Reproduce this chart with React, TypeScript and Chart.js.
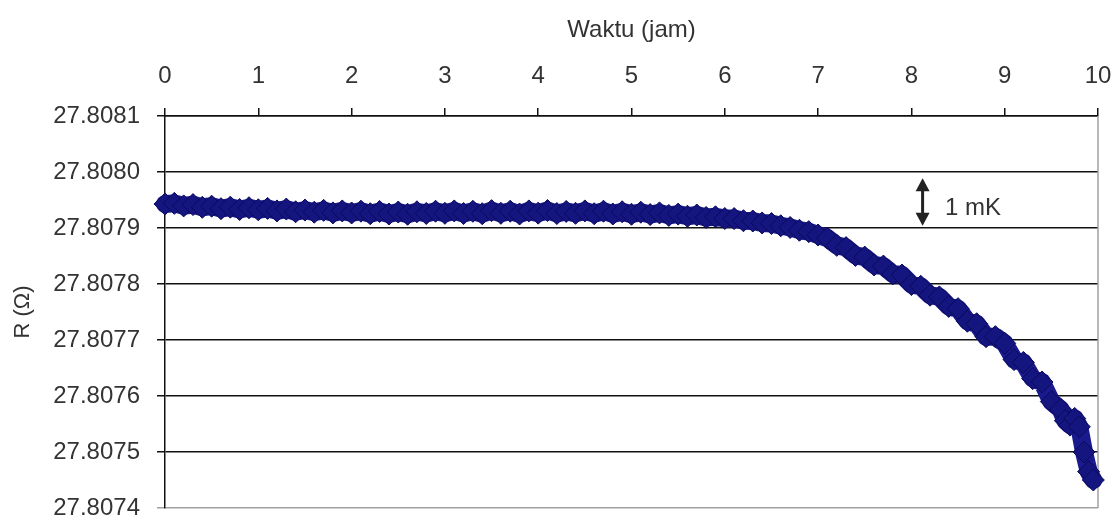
import React, { useEffect, useRef } from "react";
import { Chart, registerables } from "chart.js";

Chart.register(...registerables);

// Elapsed time (hours) and measured resistance (ohm)
const HOURS = [
  0.0, 0.1, 0.2, 0.3, 0.4, 0.5, 0.6, 0.7, 0.8, 0.9,
  1.0, 1.1, 1.2, 1.3, 1.4, 1.5, 1.6, 1.7, 1.8, 1.9,
  2.0, 2.1, 2.2, 2.3, 2.4, 2.5, 2.6, 2.7, 2.8, 2.9,
  3.0, 3.1, 3.2, 3.3, 3.4, 3.5, 3.6, 3.7, 3.8, 3.9,
  4.0, 4.1, 4.2, 4.3, 4.4, 4.5, 4.6, 4.7, 4.8, 4.9,
  5.0, 5.1, 5.2, 5.3, 5.4, 5.5, 5.6, 5.7, 5.8, 5.9,
  6.0, 6.1, 6.2, 6.3, 6.4, 6.5, 6.6, 6.7, 6.8, 6.9,
  7.0, 7.1, 7.2, 7.3, 7.4, 7.5, 7.6, 7.7, 7.8, 7.9,
  8.0, 8.1, 8.2, 8.3, 8.4, 8.5, 8.6, 8.7, 8.8, 8.9,
  9.0, 9.1, 9.2, 9.3, 9.4, 9.5, 9.6, 9.65, 9.7, 9.75,
  9.8, 9.85, 9.9, 9.95,
];

const RESISTANCE = [
  27.8079429, 27.807944, 27.8079395, 27.8079418, 27.807937, 27.807939, 27.8079345, 27.8079372, 27.807933, 27.8079362,
  27.8079325, 27.807935, 27.8079305, 27.8079338, 27.807929, 27.807932, 27.8079282, 27.8079315, 27.807927, 27.8079305,
  27.8079268, 27.80793, 27.8079255, 27.8079295, 27.807925, 27.8079285, 27.8079245, 27.807929, 27.807926, 27.80793,
  27.8079262, 27.8079305, 27.8079258, 27.8079298, 27.8079255, 27.807931, 27.8079262, 27.80793, 27.807925, 27.8079305,
  27.8079265, 27.8079312, 27.8079258, 27.8079296, 27.8079262, 27.8079305, 27.8079255, 27.80793, 27.807925, 27.807929,
  27.8079245, 27.8079282, 27.807924, 27.807927, 27.8079225, 27.8079248, 27.807921, 27.8079232, 27.8079188, 27.80792,
  27.807917, 27.8079168, 27.807913, 27.8079125, 27.807909, 27.807908, 27.807904, 27.807901, 27.807896, 27.8078935,
  27.8078875, 27.807882, 27.807869, 27.807865, 27.807851, 27.807848, 27.807834, 27.807832, 27.807818, 27.807816,
  27.807799, 27.807796, 27.80778, 27.807777, 27.80776, 27.807756, 27.8077335, 27.807729, 27.807706, 27.807706,
  27.807694, 27.807665, 27.80766, 27.807631, 27.807625, 27.80759, 27.807576, 27.807556, 27.807548, 27.80756,
  27.807545, 27.8075, 27.807465, 27.80745,
];

const X_TICKS = [0, 1, 2, 3, 4, 5, 6, 7, 8, 9, 10];
const Y_TICKS = [27.8074, 27.8075, 27.8076, 27.8077, 27.8078, 27.8079, 27.808, 27.8081];

// "1 mK" scale marker: double arrow spanning one millikelvin-equivalent step
const MARK_HOUR = 8.12;
const MARK_TOP = 27.807989;
const MARK_BOTTOM = 27.807904;
const MARK_LABEL = "1 mK";
const MARK_LABEL_HOUR = 8.36;
const MARK_LABEL_VALUE = 27.807935;

const FONT = "'Liberation Sans', Arial, sans-serif";
const TEXT = "#333333";

const frameAndMarker = {
  id: "frameAndMarker",
  beforeDatasetsDraw(chart: any) {
    const { ctx, chartArea } = chart;
    ctx.save();
    ctx.strokeStyle = "#a0a0a0";
    ctx.lineWidth = 1.5;
    ctx.beginPath();
    ctx.moveTo(chartArea.right, chartArea.top);
    ctx.lineTo(chartArea.right, chartArea.bottom);
    ctx.stroke();
    ctx.restore();
  },
  afterDatasetsDraw(chart: any) {
    const { ctx } = chart;
    const xs = chart.scales.x;
    const ys = chart.scales.y;
    const x = xs.getPixelForValue(MARK_HOUR);
    const yTop = ys.getPixelForValue(MARK_TOP);
    const yBot = ys.getPixelForValue(MARK_BOTTOM);
    const head = 13;
    const half = 7;
    ctx.save();
    ctx.fillStyle = "#222222";
    ctx.strokeStyle = "#222222";
    ctx.lineWidth = 3;
    ctx.beginPath();
    ctx.moveTo(x, yTop + head - 1);
    ctx.lineTo(x, yBot - head + 1);
    ctx.stroke();
    ctx.beginPath();
    ctx.moveTo(x, yTop);
    ctx.lineTo(x - half, yTop + head);
    ctx.lineTo(x + half, yTop + head);
    ctx.closePath();
    ctx.fill();
    ctx.beginPath();
    ctx.moveTo(x, yBot);
    ctx.lineTo(x - half, yBot - head);
    ctx.lineTo(x + half, yBot - head);
    ctx.closePath();
    ctx.fill();
    ctx.font = `24px ${FONT}`;
    ctx.fillStyle = TEXT;
    ctx.textAlign = "left";
    ctx.textBaseline = "middle";
    ctx.fillText(MARK_LABEL, xs.getPixelForValue(MARK_LABEL_HOUR), ys.getPixelForValue(MARK_LABEL_VALUE));
    ctx.restore();
  },
};

export default function App() {
  const canvasRef = useRef<HTMLCanvasElement | null>(null);

  useEffect(() => {
    if (!canvasRef.current) return;
    const points = HOURS.map((h, i) => ({ x: h, y: RESISTANCE[i] }));
    const chart = new Chart(canvasRef.current, {
      type: "line",
      data: {
        datasets: [
          {
            data: points,
            borderColor: "#1a1a8e",
            borderWidth: 18,
            borderJoinStyle: "round",
            borderCapStyle: "round",
            pointStyle: "rectRot",
            pointRadius: 11,
            pointBackgroundColor: "#15157f",
            pointBorderColor: "#0a0a5e",
            pointBorderWidth: 1,
            tension: 0,
            clip: false,
          } as any,
        ],
      },
      options: {
        responsive: false,
        animation: false,
        layout: { padding: { left: 0, right: 15, top: 0, bottom: 13 } },
        plugins: { legend: { display: false }, tooltip: { enabled: false } },
        scales: {
          x: {
            type: "linear",
            position: "top",
            min: 0,
            max: 10,
            afterBuildTicks: (scale: any) => {
              scale.ticks = X_TICKS.map((v) => ({ value: v }));
            },
            afterFit: (scale: any) => {
              scale.height = 116;
              scale.paddingLeft = 0;
              scale.paddingRight = 0;
            },
            ticks: {
              font: { family: FONT, size: 24 },
              color: TEXT,
              padding: 17,
              maxRotation: 0,
              autoSkip: false,
            },
            grid: {
              drawOnChartArea: false,
              drawTicks: true,
              tickLength: 8,
              color: "#111111",
              lineWidth: 1.5,
            },
            border: { color: "#111111", width: 1.5 },
            title: {
              display: true,
              text: "Waktu (jam)",
              font: { family: FONT, size: 24 },
              color: TEXT,
              padding: { top: 16, bottom: 0 },
            },
          },
          y: {
            type: "linear",
            min: 27.8074,
            max: 27.8081,
            afterBuildTicks: (scale: any) => {
              scale.ticks = Y_TICKS.map((v) => ({ value: v }));
            },
            afterFit: (scale: any) => {
              scale.width = 165;
              scale.paddingTop = 0;
              scale.paddingBottom = 0;
            },
            ticks: {
              font: { family: FONT, size: 24 },
              color: TEXT,
              padding: 17,
              autoSkip: false,
              callback: (v: any) => Number(v).toFixed(4),
            },
            grid: {
              drawTicks: true,
              tickLength: 8,
              lineWidth: 1.5,
              color: (c: any) => (c.tick && Math.abs(c.tick.value - 27.8074) < 1e-7 ? "#a0a0a0" : "#111111"),
            },
            border: { color: "#111111", width: 1.5 },
            title: {
              display: true,
              text: "R (Ω)",
              font: { family: FONT, size: 22 },
              color: TEXT,
              padding: { top: 10, bottom: 0 },
            },
          },
        },
      } as any,
      plugins: [frameAndMarker],
    });
    return () => chart.destroy();
  }, []);

  return (
    <div style={{ position: "absolute", left: 0, top: 0, width: 1113, height: 521, background: "#ffffff" }}>
      <canvas ref={canvasRef} width={1113} height={521} style={{ display: "block" }} />
    </div>
  );
}
